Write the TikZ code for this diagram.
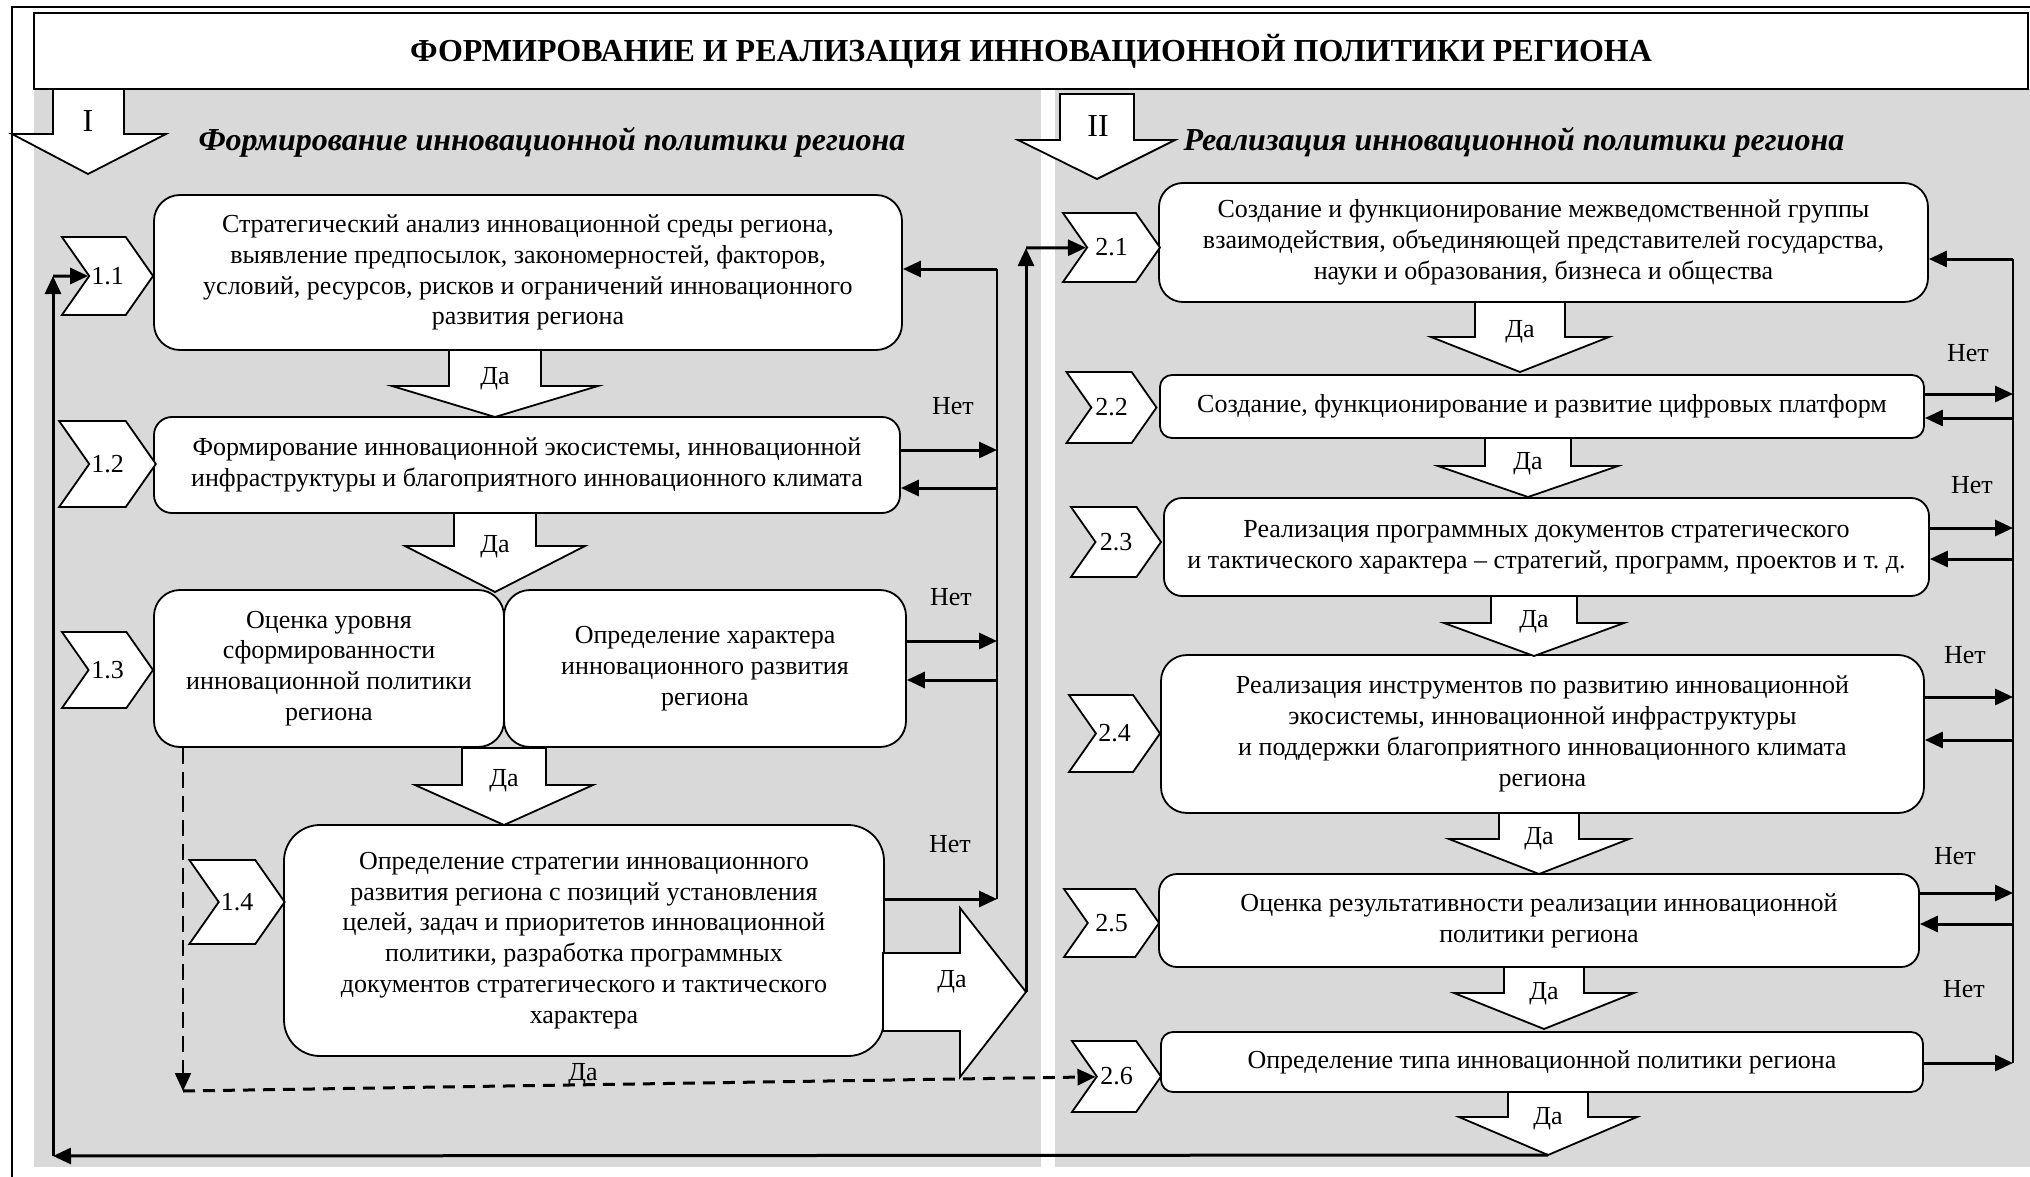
\documentclass[tikz,border=0pt]{standalone}
\usepackage{fontspec}
\setmainfont{Liberation Serif}
\usetikzlibrary{arrows.meta, calc, shapes.symbols}
\definecolor{panel}{HTML}{D9D9D9}

\begin{document}
\begin{tikzpicture}[
    x=0.5pt, y=-0.5pt,
    >={Triangle[length=9pt, width=8pt]},
    % --- block styles ---
    stagebox/.style={
      draw, rectangle, rounded corners=9pt, fill=white,
      line width=0.9pt, align=center, inner sep=2pt,
      font=\fontsize{13}{15.4}\selectfont},
    numtag/.style={
      draw, signal, signal to=east, signal from=west,
      signal pointer angle=110, fill=white, line width=0.9pt,
      inner sep=1pt, font=\fontsize{13}{15}\selectfont},
    yesarrow/.style={draw, fill=white, line width=0.9pt},
    yeslbl/.style={font=\fontsize{13}{15}\selectfont, inner sep=0pt},
    nolbl/.style={font=\fontsize{13}{15}\selectfont, inner sep=0pt},
    conn/.style={->, line width=1.5pt},
    bus/.style={line width=1.2pt},
    dashconn/.style={->, line width=1.5pt, dash pattern=on 6pt off 4pt},
    heading/.style={font=\fontsize{16}{18}\selectfont\bfseries\itshape, inner sep=0pt},
  ]
  \useasboundingbox (0,0) rectangle (2030,1177);

  % ── Frame, panels and title ──
  \fill[panel] (34,89) rectangle (1041,1167);
  \fill[panel] (1055,89) rectangle (2030,1167);
  \draw[line width=1.2pt] (12,1177) -- (12,7) -- (2030,7);
  \node[draw, fill=white, line width=0.9pt, minimum width=997pt, minimum height=38pt,
        font=\fontsize{16}{18}\selectfont\bfseries]
    (title) at (1031,51) {ФОРМИРОВАНИЕ И РЕАЛИЗАЦИЯ ИННОВАЦИОННОЙ ПОЛИТИКИ РЕГИОНА};

  % ── Section arrows I and II ──
  \draw[yesarrow] (53,89) -- (124,89) -- (124,134) -- (166,134) -- (88,174)
    -- (12,134) -- (53,134) -- cycle;
  \node[font=\fontsize{16}{18}\selectfont] (sec1) at (88,121) {I};
  \draw[yesarrow] (1060,94) -- (1134,94) -- (1134,140) -- (1175,140) -- (1097,179)
    -- (1018,140) -- (1060,140) -- cycle;
  \node[font=\fontsize{16}{18}\selectfont] (sec2) at (1098,126) {II};
  \node[heading] (head1) at (552,142) {Формирование инновационной политики региона};
  \node[heading] (head2) at (1514,142) {Реализация инновационной политики региона};

  % ── Stage I boxes ──
  \node[stagebox, minimum width=374pt, minimum height=77.5pt, rounded corners=13pt]
    (s11) at (528,272.5)
    {Стратегический анализ инновационной среды региона,\\
     выявление предпосылок, закономерностей, факторов,\\
     условий, ресурсов, рисков и ограничений инновационного\\
     развития региона};
  \node[stagebox, minimum width=373pt, minimum height=48pt] (s12) at (527,465)
    {Формирование инновационной экосистемы, инновационной\\
     инфраструктуры и благоприятного инновационного климата};
  \node[stagebox, minimum width=175pt, minimum height=78.5pt, rounded corners=13pt]
    (s13a) at (329,668.5)
    {Оценка уровня\\ сформированности\\ инновационной политики\\ региона};
  \node[stagebox, minimum width=201pt, minimum height=78.5pt, rounded corners=13pt]
    (s13b) at (705,668.5)
    {Определение характера\\ инновационного развития\\ региона};
  \node[stagebox, minimum width=300pt, minimum height=115.5pt, rounded corners=18pt]
    (s14) at (584,940.5)
    {Определение стратегии инновационного\\
     развития региона с позиций установления\\
     целей, задач и приоритетов инновационной\\
     политики, разработка программных\\
     документов стратегического и тактического\\
     характера};

  % ── Stage II boxes ──
  \node[stagebox, minimum width=384.5pt, minimum height=59.5pt, rounded corners=12pt]
    (s21) at (1543.5,242.5)
    {Создание и функционирование межведомственной группы\\
     взаимодействия, объединяющей представителей государства,\\
     науки и образования, бизнеса и общества};
  \node[stagebox, minimum width=382pt, minimum height=31.5pt, rounded corners=6pt]
    (s22) at (1542,406.5)
    {Создание, функционирование и развитие цифровых платформ};
  \node[stagebox, minimum width=382.5pt, minimum height=49pt] (s23) at (1546.5,547)
    {Реализация программных документов стратегического\\
     и тактического характера – стратегий, программ, проектов и т.~д.};
  \node[stagebox, minimum width=381.5pt, minimum height=79pt, rounded corners=13pt]
    (s24) at (1542.5,734)
    {Реализация инструментов по развитию инновационной\\
     экосистемы, инновационной инфраструктуры\\
     и поддержки благоприятного инновационного климата\\
     региона};
  \node[stagebox, minimum width=380pt, minimum height=46.5pt] (s25) at (1539,920.5)
    {Оценка результативности реализации инновационной\\ политики региона};
  \node[stagebox, minimum width=381pt, minimum height=30pt, rounded corners=6pt]
    (s26) at (1542,1062)
    {Определение типа инновационной политики региона};

  % ── Step tags ──
  \node[numtag, minimum width=45.5pt, minimum height=39pt]   (n11) at (107.5,276)   {1.1};
  \node[numtag, minimum width=45.5pt, minimum height=43pt]   (n12) at (107.5,464)   {1.2};
  \node[numtag, minimum width=45.5pt, minimum height=38pt]   (n13) at (107.5,670)   {1.3};
  \node[numtag, minimum width=45pt,   minimum height=42pt]   (n14) at (237,902)     {1.4};
  \node[numtag, minimum width=48.5pt, minimum height=34.5pt] (n21) at (1111.5,247.5) {2.1};
  \node[numtag, minimum width=45pt,   minimum height=35.5pt] (n22) at (1111.5,407.5) {2.2};
  \node[numtag, minimum width=45pt,   minimum height=35pt]   (n23) at (1116,542)    {2.3};
  \node[numtag, minimum width=45.5pt, minimum height=38.5pt] (n24) at (1114.5,733.5) {2.4};
  \node[numtag, minimum width=47.5pt, minimum height=34pt]   (n25) at (1111.5,923)  {2.5};
  \node[numtag, minimum width=44.5pt, minimum height=35.5pt] (n26) at (1116.5,1076.5) {2.6};

  % ── "Да" block arrows ──
  \foreach \cx/\sw/\hw/\yt/\yh/\yb [count=\i] in {
      495/46/103/350/386/417, 495/41/90/513/546/592, 504/42/89/748/785/825,
      1520/45/89/302/337/372, 1528/43/90/438/466/497, 1534/43/90/596/623/656,
      1539/40/90/813/839/874, 1544/40/90/967/993/1029, 1548/40/89/1092/1117/1155}
  {
    \draw[yesarrow] (\cx-\sw,\yt) -- (\cx+\sw,\yt) -- (\cx+\sw,\yh) -- (\cx+\hw,\yh)
      -- (\cx,\yb) -- (\cx-\hw,\yh) -- (\cx-\sw,\yh) -- cycle;
    \node[yeslbl] (yes\i) at ($(\cx,\yt)!0.43!(\cx,\yb)$) {Да};
    \coordinate (tip\i) at (\cx,\yb);
  }
  \draw[yesarrow] (883,953) -- (960,953) -- (960,908) -- (1026,992) -- (960,1077)
    -- (960,1031) -- (883,1031) -- cycle;
  \node[yeslbl] (yesbig) at (952,982) {Да};
  \coordinate (bigtip) at (1026,992);

  % ── Stage I "Нет" loop ──
  \coordinate (lbus) at (997,269);
  \coordinate (lbot) at (997,899);
  \draw[bus] (lbot) -- (lbus);
  \draw[conn] (lbus) -- (lbus -| s11.east);
  \draw[conn] ([yshift=7.5pt]s12.east) -- ([yshift=7.5pt]s12.east -| lbus);
  \draw[conn] ([yshift=-11.5pt]s12.east -| lbus) -- ([yshift=-11.5pt]s12.east);
  \draw[conn] ([yshift=13.75pt]s13b.east) -- ([yshift=13.75pt]s13b.east -| lbus);
  \draw[conn] ([yshift=-5.75pt]s13b.east -| lbus) -- ([yshift=-5.75pt]s13b.east);
  \draw[conn] (lbot -| s14.east) -- (lbot);
  \node[nolbl] (no12) at (953,406) {Нет};
  \node[nolbl] (no13) at (951,597) {Нет};
  \node[nolbl] (no14) at (950,844) {Нет};

  % ── Stage II "Нет" loop ──
  \coordinate (rbus) at (2013,259);
  \coordinate (rbot) at (2013,1063);
  \draw[bus] (rbot) -- (rbus);
  \draw[conn] (rbus) -- (rbus -| s21.east);
  \draw[conn] ([yshift=6.25pt]s22.east) -- ([yshift=6.25pt]s22.east -| rbus);
  \draw[conn] ([yshift=-5.75pt]s22.east -| rbus) -- ([yshift=-5.75pt]s22.east);
  \draw[conn] ([yshift=9.5pt]s23.east) -- ([yshift=9.5pt]s23.east -| rbus);
  \draw[conn] ([yshift=-6pt]s23.east -| rbus) -- ([yshift=-6pt]s23.east);
  \draw[conn] ([yshift=18.5pt]s24.east) -- ([yshift=18.5pt]s24.east -| rbus);
  \draw[conn] ([yshift=-3pt]s24.east -| rbus) -- ([yshift=-3pt]s24.east);
  \draw[conn] ([yshift=13.75pt]s25.east) -- ([yshift=13.75pt]s25.east -| rbus);
  \draw[conn] ([yshift=-1.75pt]s25.east -| rbus) -- ([yshift=-1.75pt]s25.east);
  \draw[conn] (rbot -| s26.east) -- (rbot);
  \node[nolbl] (no22) at (1968,353) {Нет};
  \node[nolbl] (no23) at (1972,485) {Нет};
  \node[nolbl] (no24) at (1965,655) {Нет};
  \node[nolbl] (no25) at (1955,856) {Нет};
  \node[nolbl] (no26) at (1964,989) {Нет};

  % ── Transition from stage I to stage II ──
  \coordinate (j21) at (1026,248);
  \draw[conn] (bigtip) -- (j21);
  \draw[conn] (j21) -- (n21);

  % ── Return from the end back to 1.1 ──
  \coordinate (lb) at (53,1156);
  \coordinate (j11) at (53,276);
  \draw[conn] (tip9) -- (lb);
  \draw[conn] (lb) -- (j11);
  \draw[conn] (j11) -- (n11);

  % ── Dashed shortcut 1.3 -> 2.6 ──
  \coordinate (dtop) at ([xshift=-73pt]s13a.south);
  \coordinate (dcorner) at (183,1091);
  \draw[dashconn, line width=1pt, dash pattern=on 8pt off 4pt] (dtop) -- (dcorner);
  \draw[dashconn] (dcorner) -- (n26);
  \node[yeslbl] (yesdash) at (583,1075) {Да};

\end{tikzpicture}
\end{document}
